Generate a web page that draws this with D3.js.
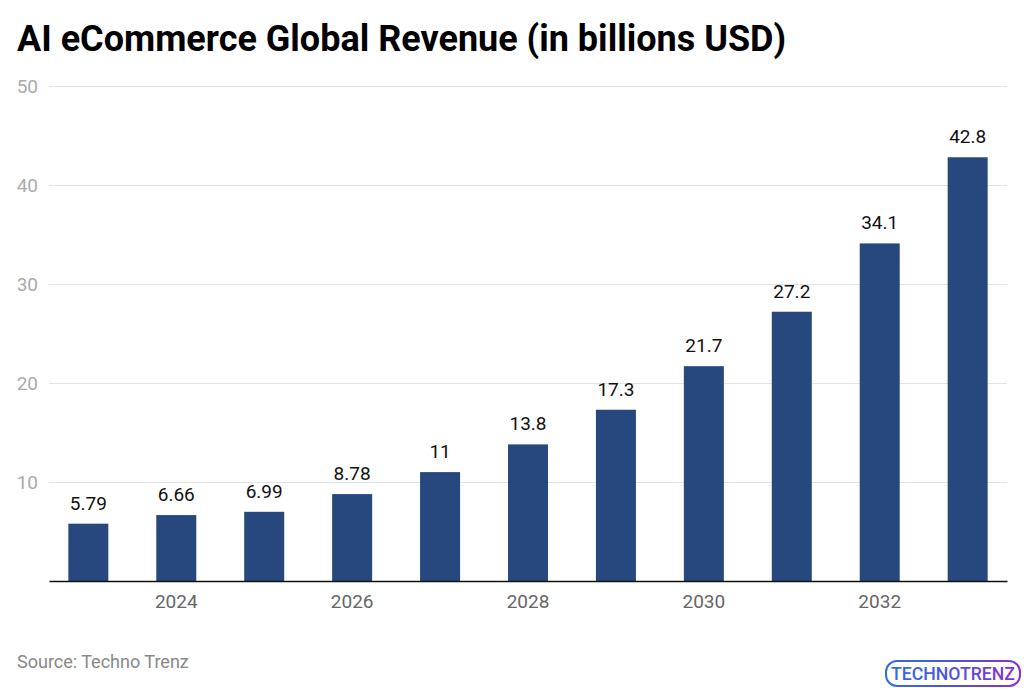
<!doctype html>
<html>
<head>
<meta charset="utf-8">
<title>AI eCommerce Global Revenue</title>
<script src="https://d3js.org/d3.v7.min.js"></script>
<style>
  body { margin: 0; background: #fff; }
  text { font-family: Roboto, "Noto Sans", sans-serif; }
</style>
</head>
<body>
<div id="chart"></div>
<script>
// data
var years = ["2023", "2024", "2025", "2026", "2027", "2028", "2029", "2030", "2031", "2032", "2033"];
var revenue = [5.79, 6.66, 6.99, 8.78, 11, 13.8, 17.3, 21.7, 27.2, 34.1, 42.8];
var revenueLabels = ["5.79", "6.66", "6.99", "8.78", "11", "13.8", "17.3", "21.7", "27.2", "34.1", "42.8"];
var yTicks = [10, 20, 30, 40, 50];
var xTickYears = ["2024", "2026", "2028", "2030", "2032"];

var W = 1024, H = 690;
var margin = {top: 86, right: 17, bottom: 109, left: 49};

var svg = d3.select("#chart").append("svg")
    .attr("width", W)
    .attr("height", H);

var x = d3.scaleBand()
    .domain(years)
    .range([margin.left, W - margin.right])
    .paddingInner(0.545)
    .paddingOuter(0.22);

var y = d3.scaleLinear()
    .domain([0, 50])
    .range([H - margin.bottom, margin.top]);

// title
svg.append("text")
    .attr("x", 17)
    .attr("y", 51)
    .attr("font-size", 36)
    .attr("font-weight", "bold")
    .attr("fill", "#000")
    .text("AI eCommerce Global Revenue (in billions USD)");

// grid lines + y labels
var yAxis = svg.append("g")
    .attr("transform", "translate(" + margin.left + ",0)")
    .call(d3.axisLeft(y).tickValues(yTicks).tickSize(-(W - margin.left - margin.right)).tickPadding(11));
yAxis.select(".domain").remove();
yAxis.selectAll(".tick line").attr("stroke", "#e3e3e3").attr("stroke-width", 1.2);
yAxis.selectAll(".tick text")
    .attr("fill", "#aaaaaa")
    .attr("font-size", 19)
    .attr("font-family", "Roboto, sans-serif");

// bars
svg.selectAll("rect.bar")
    .data(revenue)
    .enter()
    .append("rect")
    .attr("class", "bar")
    .attr("x", function(d, i) { return x(years[i]); })
    .attr("y", function(d) { return y(d); })
    .attr("width", x.bandwidth())
    .attr("height", function(d) { return y(0) - y(d); })
    .attr("fill", "#27487f");

// value labels
svg.selectAll("text.val")
    .data(revenue)
    .enter()
    .append("text")
    .attr("class", "val")
    .attr("x", function(d, i) { return x(years[i]) + x.bandwidth() / 2; })
    .attr("y", function(d) { return y(d) - 14; })
    .attr("text-anchor", "middle")
    .attr("font-size", 19)
    .attr("fill", "#111")
    .text(function(d, i) { return revenueLabels[i]; });

// x axis
var xAxis = svg.append("g")
    .attr("transform", "translate(0," + y(0) + ")")
    .call(d3.axisBottom(x).tickValues(xTickYears).tickSize(0).tickPadding(14));
xAxis.select(".domain").attr("stroke", "#111").attr("stroke-width", 1.5);
xAxis.selectAll(".tick text")
    .attr("fill", "#666")
    .attr("font-size", 19)
    .attr("font-family", "Roboto, sans-serif");

// source
svg.append("text")
    .attr("x", 17)
    .attr("y", 668)
    .attr("font-size", 18)
    .attr("fill", "#888")
    .text("Source: Techno Trenz");

// logo
var defs = svg.append("defs");
var grad = defs.append("linearGradient").attr("id", "logoGrad");
grad.append("stop").attr("offset", "0%").attr("stop-color", "#2f6fe0");
grad.append("stop").attr("offset", "45%").attr("stop-color", "#4a55e0");
grad.append("stop").attr("offset", "100%").attr("stop-color", "#8a2fd0");

var logo = svg.append("g").attr("transform", "translate(886,661)");
logo.append("rect")
    .attr("x", 0).attr("y", 0)
    .attr("width", 134).attr("height", 25)
    .attr("rx", 11)
    .attr("fill", "none")
    .attr("stroke", "url(#logoGrad)")
    .attr("stroke-width", 2);
logo.append("text")
    .attr("x", 67).attr("y", 19)
    .attr("text-anchor", "middle")
    .attr("font-size", 18)
    .attr("font-weight", "500")
    .attr("textLength", 124)
    .attr("lengthAdjust", "spacingAndGlyphs")
    .attr("fill", "url(#logoGrad)")
    .text("TECHNOTRENZ");
</script>
</body>
</html>
